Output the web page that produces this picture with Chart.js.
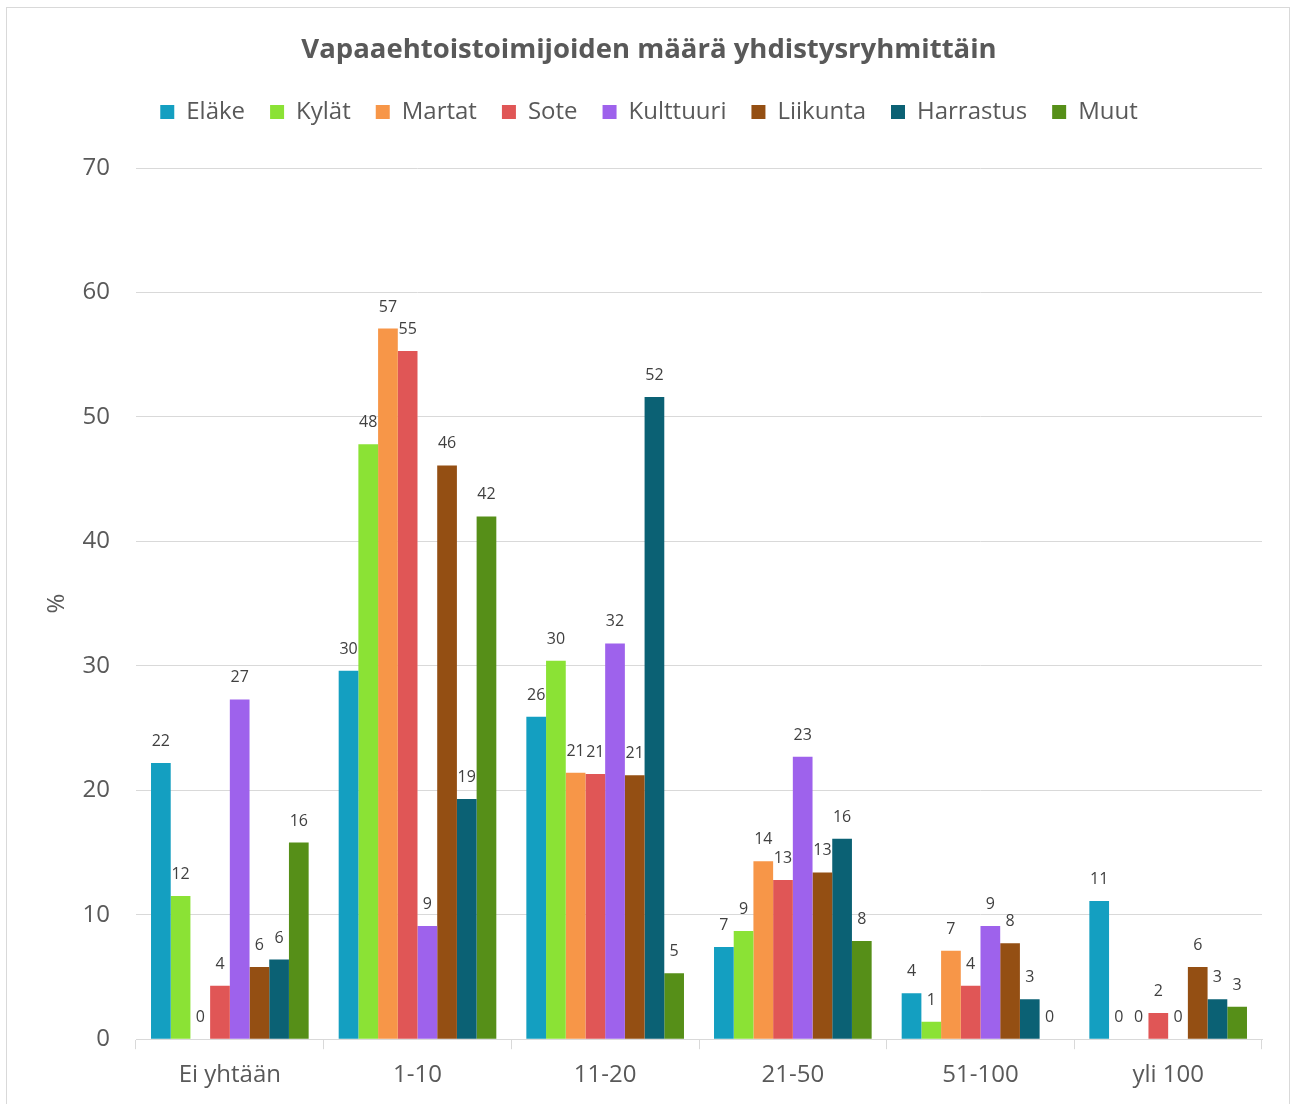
<!DOCTYPE html>
<html>
<head>
<meta charset="utf-8">
<script src="https://cdn.jsdelivr.net/npm/chart.js@4/dist/chart.umd.min.js"></script>
<style>
  html, body { margin: 0; padding: 0; background: #ffffff; }
  #box { position: absolute; left: 6px; top: 7px; width: 1284px; height: 1110px; border: 1px solid #d9d9d9; box-sizing: border-box; background: #fff; }
  canvas { display: block; }
</style>
</head>
<body>
<div id="box"><canvas id="c" width="1282" height="1108"></canvas></div>
<script>
const categories = ["Ei yhtään", "1-10", "11-20", "21-50", "51-100", "yli 100"];
const seriesNames = ["Eläke", "Kylät", "Martat", "Sote", "Kulttuuri", "Liikunta", "Harrastus", "Muut"];
const elake     = [22.2, 29.6, 25.9, 7.4, 3.7, 11.1];
const kylat     = [11.5, 47.8, 30.4, 8.7, 1.4, 0];
const martat    = [0, 57.1, 21.4, 14.3, 7.1, 0];
const sote      = [4.3, 55.3, 21.3, 12.8, 4.3, 2.1];
const kulttuuri = [27.3, 9.1, 31.8, 22.7, 9.1, 0];
const liikunta  = [5.8, 46.1, 21.2, 13.4, 7.7, 5.8];
const harrastus = [6.4, 19.3, 51.6, 16.1, 3.2, 3.2];
const muut      = [15.8, 42.0, 5.3, 7.9, 0, 2.6];
const yTicks = [0, 10, 20, 30, 40, 50, 60, 70];
const seriesData = [elake, kylat, martat, sote, kulttuuri, liikunta, harrastus, muut];
const colors = ["#149FC1", "#8BE235", "#F79648", "#E05656", "#9E62EC", "#944F13", "#0B6174", "#568F18"];

const FONT = "'Open Sans', 'DejaVu Sans', sans-serif";
const TXT = "#595959";
const LEGEND_EXTRA = 34;

const legendGap = {
  id: 'legendGap',
  beforeLayout(chart) {
    const lg = chart.legend;
    if (lg && !lg._gapPatched) {
      const orig = lg.fit.bind(lg);
      lg.fit = function () { orig(); this.height += LEGEND_EXTRA; };
      lg._gapPatched = true;
    }
  }
};

const valueLabels = {
  id: 'valueLabels',
  afterDatasetsDraw(chart) {
    const ctx = chart.ctx;
    ctx.save();
    ctx.font = "16px " + FONT;
    ctx.fillStyle = "#404040";
    ctx.textAlign = "center";
    ctx.textBaseline = "alphabetic";
    chart.data.datasets.forEach((ds, i) => {
      const meta = chart.getDatasetMeta(i);
      meta.data.forEach((bar, j) => {
        const v = ds.data[j];
        ctx.fillText(String(Math.round(v)), bar.x, bar.y - 17);
      });
    });
    ctx.restore();
  }
};

new Chart(document.getElementById('c'), {
  type: 'bar',
  data: {
    labels: categories,
    datasets: seriesNames.map((n, i) => ({
      label: n,
      data: seriesData[i],
      backgroundColor: colors[i],
      borderWidth: 0,
      categoryPercentage: 0.84,
      barPercentage: 1.0
    }))
  },
  options: {
    responsive: false,
    animation: false,
    devicePixelRatio: 1,
    layout: { padding: { top: 18, right: 27, bottom: 14, left: 29 } },
    plugins: {
      title: {
        display: true,
        text: "Vapaaehtoistoimijoiden määrä yhdistysryhmittäin",
        color: TXT,
        font: { family: FONT, size: 27.5, weight: 'bold' },
        padding: { top: 8, bottom: 8 }
      },
      legend: {
        display: true,
        position: 'top',
        labels: {
          color: TXT,
          font: { family: FONT, size: 24 },
          boxWidth: 14,
          boxHeight: 14,
          padding: 25
        }
      },
      tooltip: { enabled: false }
    },
    scales: {
      x: {
        grid: { display: true, drawOnChartArea: false, drawTicks: true, tickLength: 10, color: "#d9d9d9", lineWidth: 1 },
        border: { display: true, color: "#d9d9d9", width: 1 },
        ticks: { color: TXT, font: { family: FONT, size: 24 }, padding: 12 }
      },
      y: {
        min: 0,
        max: 70,
        afterBuildTicks: s => { s.ticks = yTicks.map(v => ({ value: v })); },
        afterFit: s => { s.width = 100; },
        grid: { color: "#d9d9d9", lineWidth: 1, drawTicks: false },
        border: { display: false },
        ticks: { color: TXT, font: { family: FONT, size: 24 }, padding: 26 },
        title: { display: true, text: "%", color: TXT, font: { family: FONT, size: 24 }, padding: { top: 7, bottom: 0 } }
      }
    }
  },
  plugins: [legendGap, valueLabels]
});
</script>
</body>
</html>
